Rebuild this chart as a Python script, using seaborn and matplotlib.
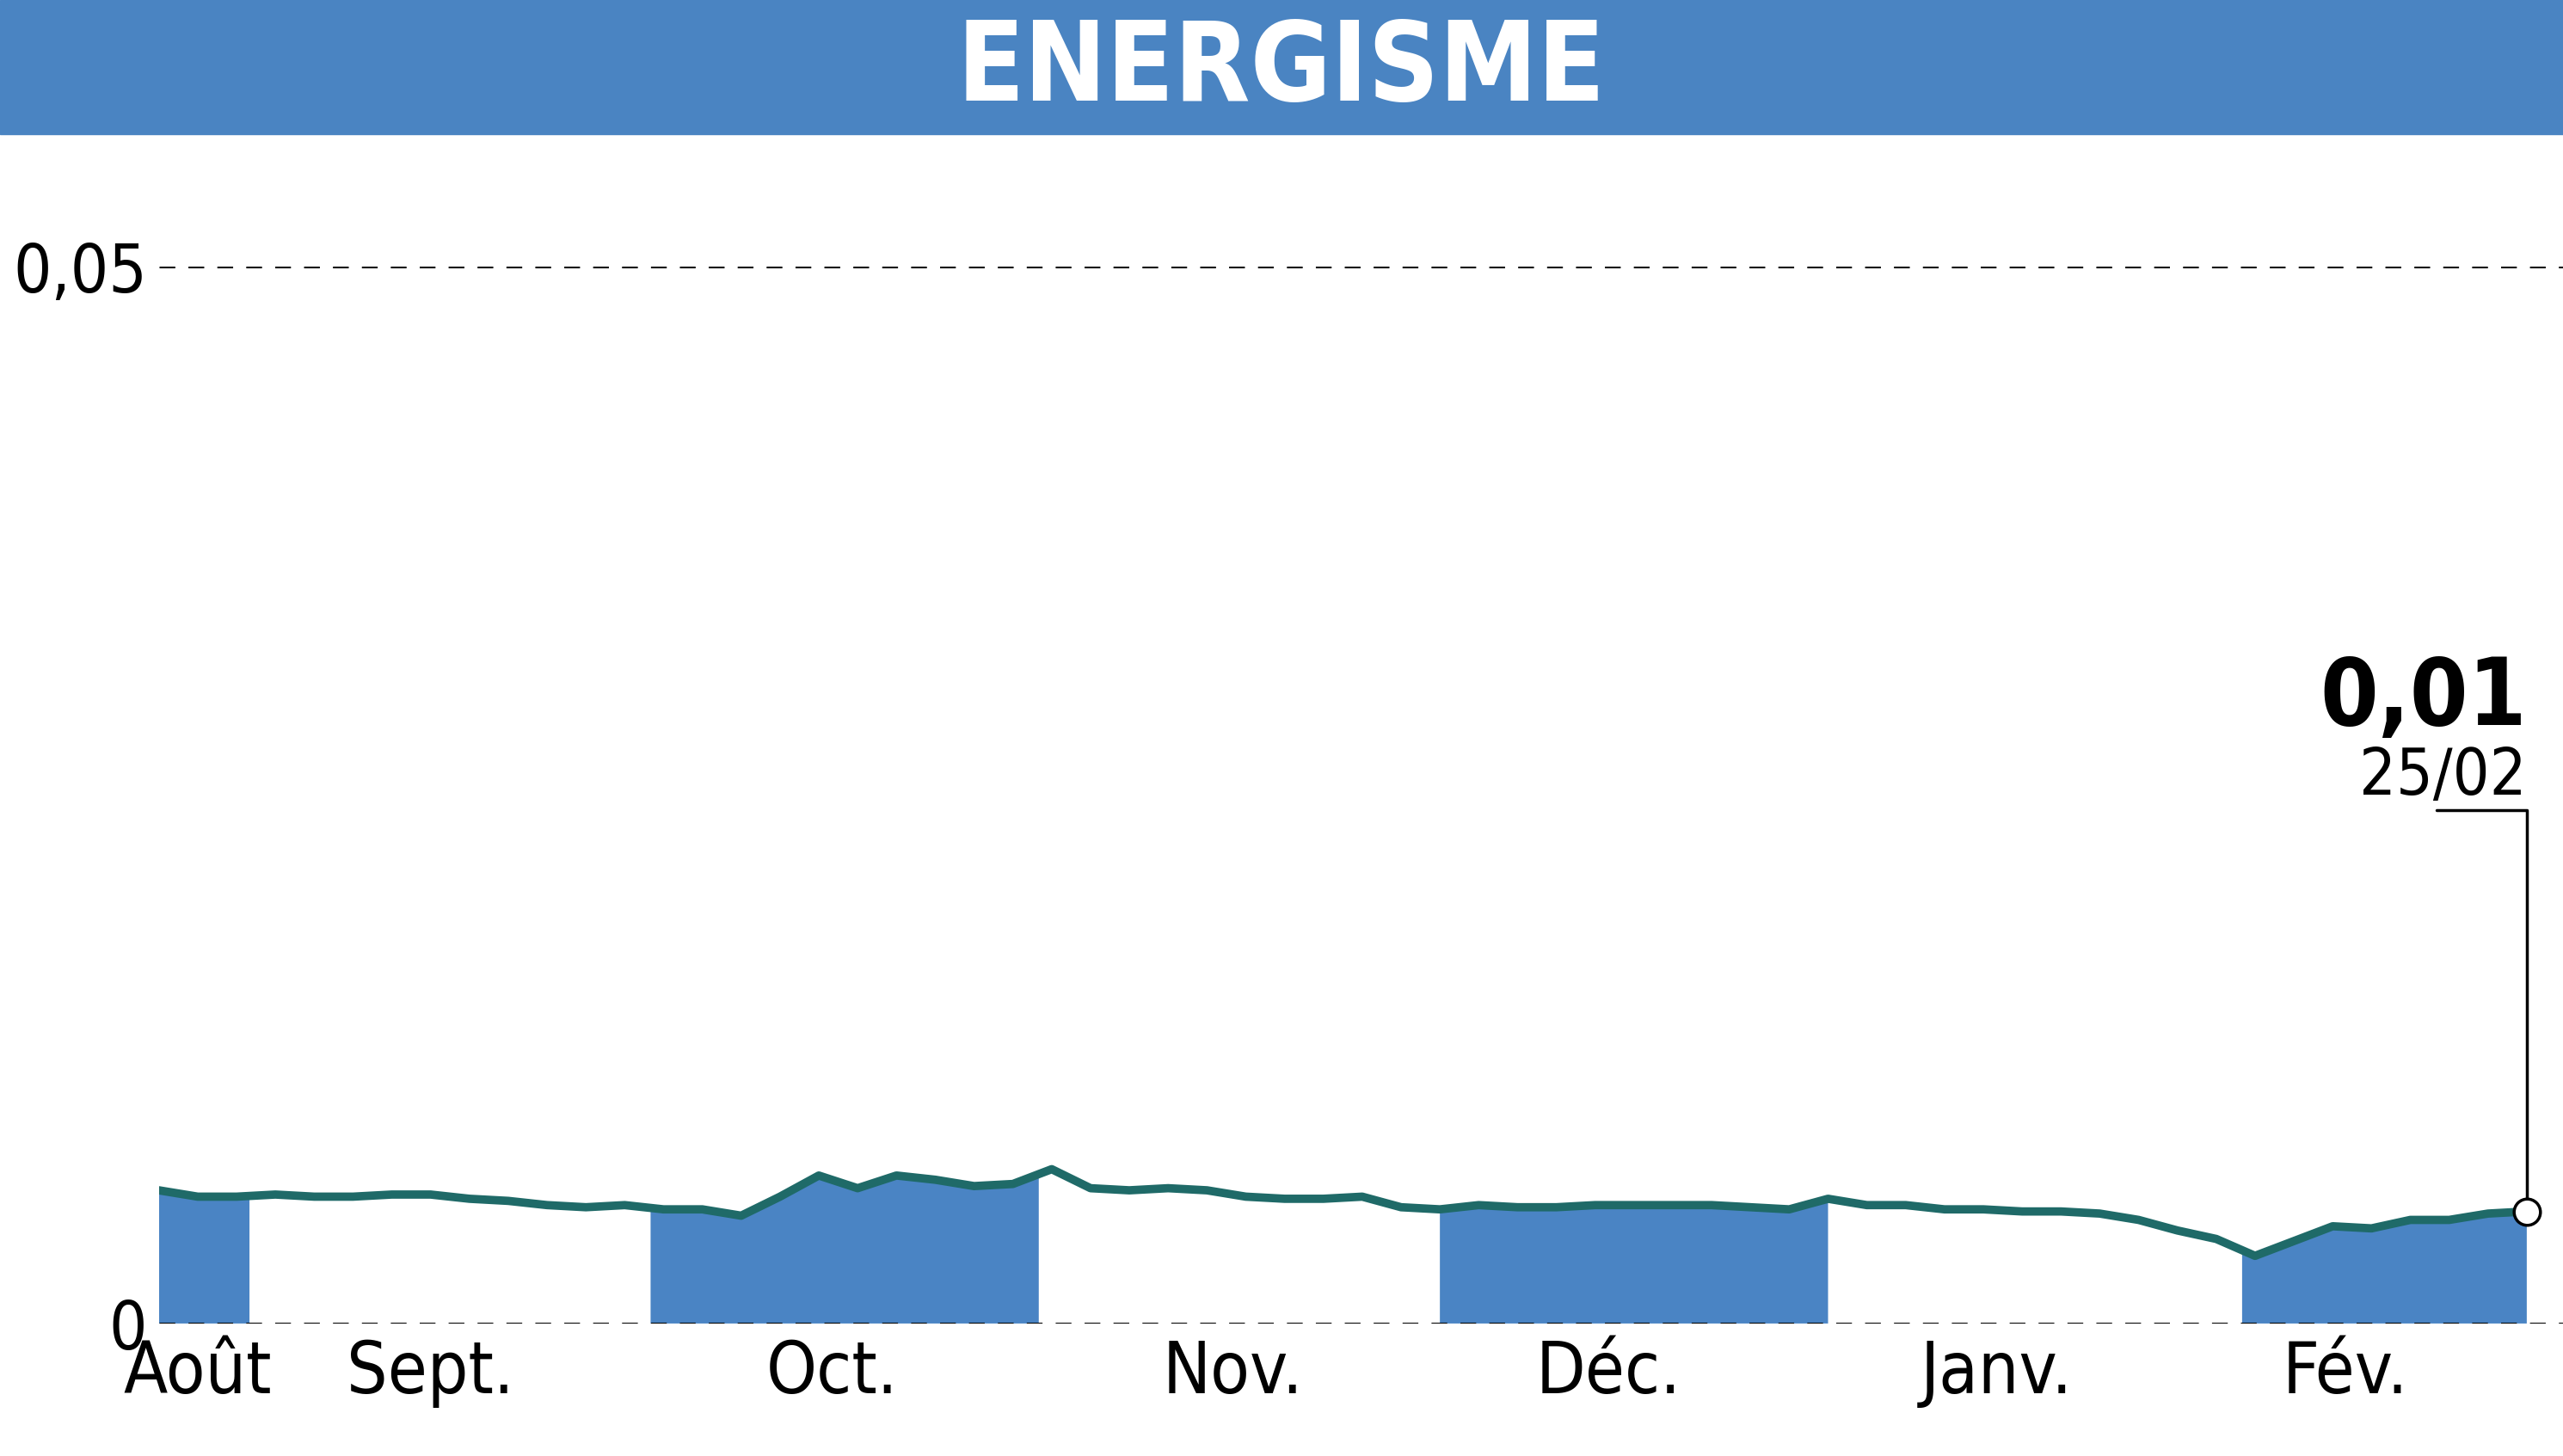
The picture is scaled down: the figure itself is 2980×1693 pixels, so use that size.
import numpy as np
import pandas as pd
import matplotlib
matplotlib.use("Agg")
import matplotlib.pyplot as plt
import matplotlib.patches as mpatches
import seaborn as sns

sns.set_theme(style="white")
plt.rcParams['font.family'] = ['DejaVu Sans']

title = "ENERGISME"
start_date = "2024-08-24"
prices = [0.0063, 0.0060, 0.0060, 0.0061, 0.0060, 0.0060, 0.0061, 0.0061, 0.0059, 0.0058,
          0.0056, 0.0055, 0.0056, 0.0054, 0.0054, 0.0051, 0.0060, 0.0070, 0.0064, 0.0070,
          0.0068, 0.0065, 0.0066, 0.0073, 0.0064, 0.0063, 0.0064, 0.0063, 0.0060, 0.0059,
          0.0059, 0.0060, 0.0055, 0.0054, 0.0056, 0.0055, 0.0055, 0.0056, 0.0056, 0.0056,
          0.0056, 0.0055, 0.0054, 0.0059, 0.0056, 0.0056, 0.0054, 0.0054, 0.0053, 0.0053,
          0.0052, 0.0049, 0.0044, 0.0040, 0.0032, 0.0039, 0.0046, 0.0045, 0.0049, 0.0049,
          0.0052, 0.0053]
month_labels = ["Août", "Sept.", "Oct.", "Nov.", "Déc.", "Janv.", "Fév."]
month_label_dates = ["2024-08-27", "2024-09-14", "2024-10-15", "2024-11-15",
                     "2024-12-14", "2025-01-13", "2025-02-09"]
shaded_months = [8, 10, 12, 2]
last_label = "0,01"
last_date_label = "25/02"
yticks = [0, 0.05]
ytick_labels = ["0", "0,05"]

dates = pd.date_range(start_date, periods=len(prices), freq="3D")
df = pd.DataFrame({"date": dates, "price": prices})

BLUE = "#4a84c4"
LINE = "#1f6a68"

fig = plt.figure(figsize=(29.8, 16.93), dpi=100)
fig.patches.append(mpatches.Rectangle((0, 0.908), 1, 0.092, transform=fig.transFigure,
                                      color="#4a84c2", zorder=0))
fig.text(0.5, 0.952, title, ha="center", va="center", color="white", fontsize=92,
         fontweight="bold", fontstretch="condensed")

ax = fig.add_axes([0.062, 0.091, 0.938, 0.726])

daily = pd.date_range(dates[0], dates[-1], freq="D")
dnum = daily.values.astype("datetime64[D]").astype(float)
pnum = dates.values.astype("datetime64[D]").astype(float)
dval = np.interp(dnum, pnum, prices)
mask = np.isin(daily.month, shaded_months)
ax.fill_between(daily, 0, dval, where=mask, color=BLUE, linewidth=0, zorder=1)

sns.lineplot(data=df, x="date", y="price", ax=ax, color=LINE, linewidth=7, zorder=3)

for yv in yticks:
    ax.axhline(yv, color="black", linestyle=(0, (6, 5)), linewidth=2.2, zorder=2)

ax.set_ylim(0, 0.05)
ax.set_xlim(dates[0], dates[-1] + pd.Timedelta(days=2.8))
ax.set_yticks(yticks)
ax.set_yticklabels(ytick_labels, fontsize=56, fontstretch="condensed", color="black")
ax.set_xticks(pd.to_datetime(month_label_dates))
ax.set_xticklabels(month_labels, fontsize=60, fontstretch="condensed", color="black")
ax.tick_params(axis="x", length=0, pad=12)
ax.tick_params(axis="y", length=0, pad=10)
for s in ax.spines.values():
    s.set_visible(False)
ax.set_xlabel("")
ax.set_ylabel("")

xl, yl = dates[-1], prices[-1]
ax.plot([xl, xl, xl - pd.Timedelta(days=7)], [yl, 0.0243, 0.0243], color="black",
        linewidth=2.5, zorder=4)
ax.plot([xl], [yl], marker="o", markersize=22, markerfacecolor="white",
        markeredgecolor="black", markeredgewidth=2.5, zorder=5)
ax.text(xl, 0.0250, last_date_label, ha="right", va="baseline", fontsize=54,
        fontstretch="condensed", color="black")
ax.text(xl, 0.0283, last_label, ha="right", va="baseline", fontsize=78,
        fontweight="bold", fontstretch="condensed", color="black")

fig.savefig("out.png", dpi=100)
